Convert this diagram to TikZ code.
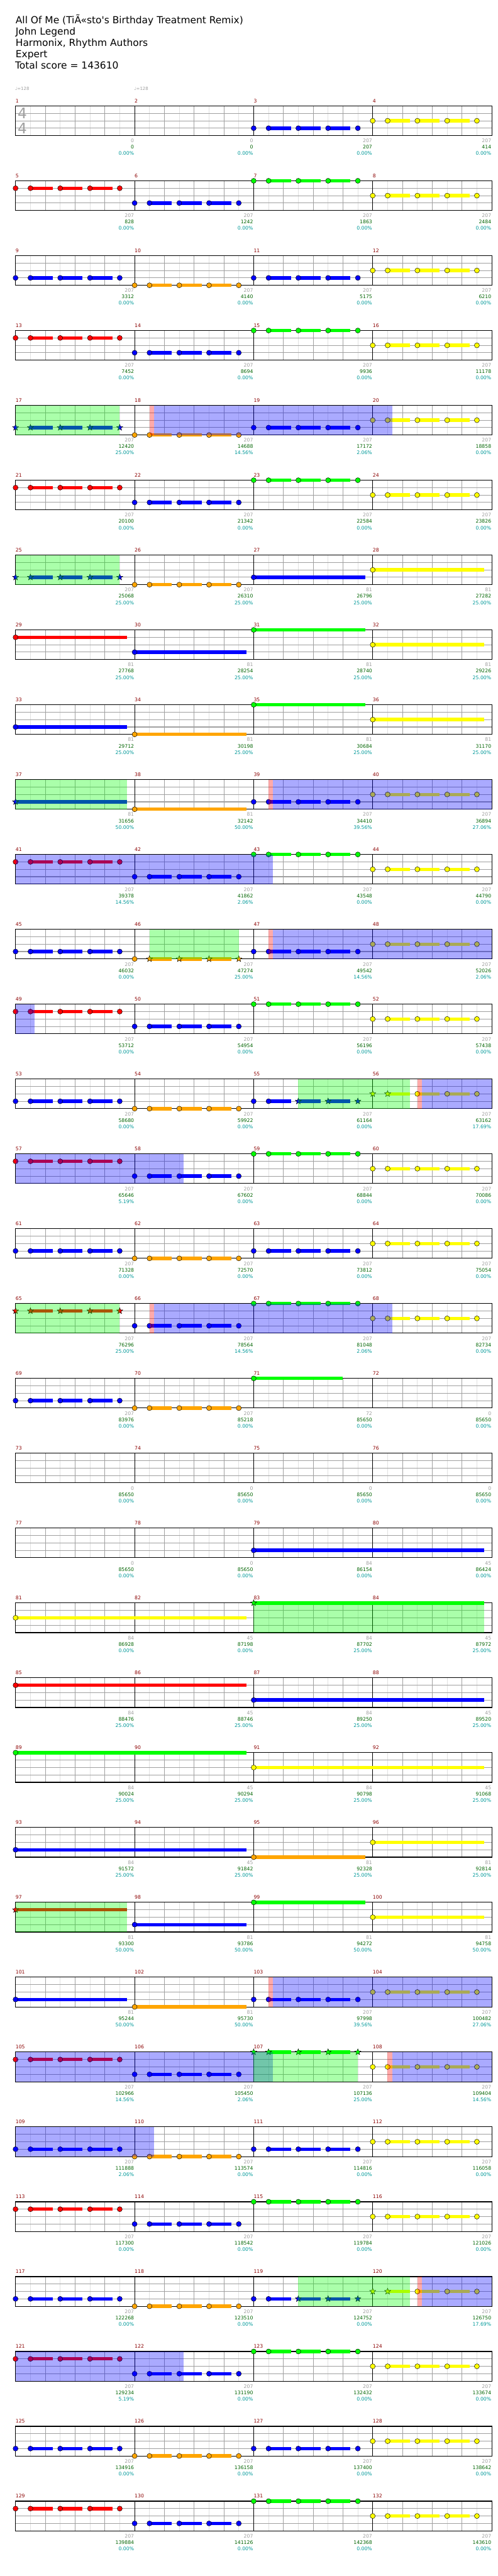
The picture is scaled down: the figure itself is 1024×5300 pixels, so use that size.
\documentclass[tikz,border=0pt]{standalone}
\usepackage{fontspec}
\newfontfamily\chartfont{DejaVu Sans}
\usetikzlibrary{positioning}

% lane colours
\definecolor{ghgreen}{RGB}{0,255,0}
\definecolor{ghred}{RGB}{255,0,0}
\definecolor{ghyellow}{RGB}{255,255,0}
\definecolor{ghblue}{RGB}{0,0,255}
\definecolor{ghorange}{RGB}{255,165,0}
\colorlet{lane0}{ghgreen}
\colorlet{lane1}{ghred}
\colorlet{lane2}{ghyellow}
\colorlet{lane3}{ghblue}
\colorlet{lane4}{ghorange}
% text and grid colours
\definecolor{halfgray}{RGB}{225,225,225}
\definecolor{beatgray}{RGB}{160,160,160}
\definecolor{barred}{RGB}{139,0,0}
\definecolor{gaingray}{RGB}{160,160,160}
\definecolor{totalgreen}{RGB}{0,100,0}
\definecolor{shareteal}{RGB}{0,153,153}

\tikzset{
  halfline/.style={draw=halfgray, line width=0.8pt},
  beatline/.style={draw=beatgray, line width=0.8pt},
  laneline/.style={draw=beatgray, line width=1.4pt},
  barline/.style={draw=black, line width=0.8pt},
  staffbox/.style={draw=black, line width=1.4pt},
  hold/.style={line width=7pt},
  gemline/.style={draw=black, line width=0.6pt},
  spfill/.style={fill=ghgreen, opacity=0.333},
  odfill/.style={fill=ghblue, opacity=0.333},
  kickfill/.style={fill=ghred, opacity=0.333},
  title/.style={anchor=base west, inner sep=0, font=\chartfont\fontsize{20}{24}\selectfont},
  tempo/.style={anchor=base west, inner sep=0, text=gaingray, font=\chartfont\fontsize{9}{11}\selectfont},
  timesig/.style={inner sep=0, text=beatgray, font=\chartfont\fontsize{30}{30}\selectfont},
  barnum/.style={anchor=base west, inner sep=0, text=barred, font=\chartfont\fontsize{10}{12}\selectfont},
  gain/.style={anchor=base east, inner sep=0, text=gaingray, font=\chartfont\fontsize{10}{12}\selectfont},
  total/.style={anchor=base east, inner sep=0, text=totalgreen, font=\chartfont\fontsize{10}{12}\selectfont},
  share/.style={anchor=base east, inner sep=0, text=shareteal, font=\chartfont\fontsize{10}{12}\selectfont}
}

% position helpers: x from (measure in row, beat), y from (row, lane)
\newcommand{\gx}[2]{32+245*(#1)+61.25*(#2)}
\newcommand{\gy}[2]{218+154*(#1)+15.25*(#2)}

% gems
\newcommand{\gem}[3]{\filldraw[gemline, fill=#3] ({#1},{#2}) circle[radius=5.2];}
\newcommand{\stargem}[3]{\filldraw[gemline, fill=#3, shift={({#1},{#2})}]
  plot[samples at={0,...,9}] ({-90+36*\x}:{ifthenelse(mod(\x,2)==0,6.6,2.8)}) -- cycle;}

% run of five gems with three short holds
\newcommand{\run}[8]{%
  \foreach \s in {0.5,1.5,2.5}
    \draw[hold, draw=lane#3] ({\gx{#2}{\s}},{\gy{#1}{#3}}) -- ++(45.94,0);
  \csname#4\endcsname{\gx{#2}{0}}{\gy{#1}{#3}}{lane#3}
  \csname#5\endcsname{\gx{#2}{0.5}}{\gy{#1}{#3}}{lane#3}
  \csname#6\endcsname{\gx{#2}{1.5}}{\gy{#1}{#3}}{lane#3}
  \csname#7\endcsname{\gx{#2}{2.5}}{\gy{#1}{#3}}{lane#3}
  \csname#8\endcsname{\gx{#2}{3.5}}{\gy{#1}{#3}}{lane#3}}
\newcommand{\gemrun}[3]{\run{#1}{#2}{#3}{gem}{gem}{gem}{gem}{gem}}
\newcommand{\starrun}[3]{\run{#1}{#2}{#3}{stargem}{stargem}{stargem}{stargem}{stargem}}

% one gem with a long hold (row, measure, lane, beats, kind)
\newcommand{\longhold}[5]{%
  \draw[hold, draw=lane#3] ({\gx{#2}{0}},{\gy{#1}{#3}}) -- ++({61.25*(#4)},0);
  \csname#5\endcsname{\gx{#2}{0}}{\gy{#1}{#3}}{lane#3}}

% the two usual rows
\newcommand{\rowA}[1]{\gemrun{#1}{0}{1}\gemrun{#1}{1}{3}\gemrun{#1}{2}{0}\gemrun{#1}{3}{2}}
\newcommand{\rowB}[1]{\gemrun{#1}{0}{3}\gemrun{#1}{1}{4}\gemrun{#1}{2}{3}\gemrun{#1}{3}{2}}

% shaded zones, beats counted from the row start
\newcommand{\spzone}[3]{\fill[spfill] ({\gx{0}{#2}},{\gy{#1}{0}}) rectangle ({\gx{0}{#3}},{\gy{#1}{4}});}
\newcommand{\odzone}[3]{\fill[odfill] ({\gx{0}{#2}},{\gy{#1}{0}}) rectangle ({\gx{0}{#3}},{\gy{#1}{4}});}
\newcommand{\odkick}[2]{\fill[kickfill] ({\gx{0}{#2}},{\gy{#1}{0}}) rectangle ({\gx{0}{#2+0.15}},{\gy{#1}{4}});}

% empty staff of one row with its bar numbers
\newcommand{\staff}[1]{%
  \foreach \k in {1,3,...,31}
    \draw[halfline] ({32+30.625*\k},{\gy{#1}{0}}) -- ++(0,61);
  \foreach \k in {1,2,3,5,6,7,9,10,11,13,14,15}
    \draw[beatline] ({32+61.25*\k},{\gy{#1}{0}}) -- ++(0,61);
  \foreach \l in {1,2,3}
    \draw[laneline] (32,{\gy{#1}{\l}}) -- ++(980,0);
  \foreach \c in {1,2,3}
    \draw[barline] ({\gx{\c}{0}},{\gy{#1}{0}}) -- ++(0,61);
  \draw[staffbox] (32,{\gy{#1}{0}}) rectangle ++(980,61);
  \foreach \c in {0,...,3}{
    \pgfmathtruncatemacro\n{4*#1+\c+1}
    \node[barnum] (bar\n) at ({\gx{\c}{0}},{\gy{#1}{0}-7}) {\n};}}

% scores under one row: gain/total/share per measure
\newcommand{\rowscores}[2]{%
  \foreach \a/\b/\p [count=\c from 0] in {#2}{
    \pgfmathtruncatemacro\n{4*#1+\c+1}
    \node[gain] (gain\n) at ({\gx{\c+1}{0}-1},{\gy{#1}{4}+14.5}) {\a};
    \node[total] (total\n) at ({\gx{\c+1}{0}-1},{\gy{#1}{4}+27.5}) {\b};
    \node[share] (share\n) at ({\gx{\c+1}{0}-1},{\gy{#1}{4}+40.5}) {\p\%};}}

\begin{document}
\begin{tikzpicture}[x=1pt, y=-1pt]
\useasboundingbox (0,0) rectangle (1024,5300);
\fill[white] (0,0) rectangle (1024,5300);

% header
\node[title] (song) at (32,49) {All Of Me (TiÃ«sto's Birthday Treatment Remix)};
\node[title] (artist) at (32,72) {John Legend};
\node[title] (charter) at (32,95) {Harmonix, Rhythm Authors};
\node[title] (level) at (32,119) {Expert};
\node[title] (score) at (31,142) {Total score = 143610};

% tempo marks
\node[tempo] (bpm1) at (31,186) {♩=128};
\node[tempo] (bpm2) at (276,186) {♩=128};

% staves
\foreach \r in {0,...,32}{\staff{\r}}

% time signature
\node[timesig] (tsup) at (46,{\gy{0}{1}}) {4};
\node[timesig] (tsdown) at (46,{\gy{0}{3}}) {4};

% notes
\gemrun{0}{2}{3} \gemrun{0}{3}{2}
\rowA{1}
\rowB{2}
\rowA{3}
\starrun{4}{0}{3} \gemrun{4}{1}{4} \gemrun{4}{2}{3} \gemrun{4}{3}{2}
\rowA{5}
\starrun{6}{0}{3} \gemrun{6}{1}{4}
\longhold{6}{2}{3}{3.75}{gem} \longhold{6}{3}{2}{3.75}{gem}
\longhold{7}{0}{1}{3.75}{gem} \longhold{7}{1}{3}{3.75}{gem}
\longhold{7}{2}{0}{3.75}{gem} \longhold{7}{3}{2}{3.75}{gem}
\longhold{8}{0}{3}{3.75}{gem} \longhold{8}{1}{4}{3.75}{gem}
\longhold{8}{2}{0}{3.75}{gem} \longhold{8}{3}{2}{3.75}{gem}
\longhold{9}{0}{3}{3.75}{stargem} \longhold{9}{1}{4}{3.75}{gem}
\gemrun{9}{2}{3} \gemrun{9}{3}{2}
\rowA{10}
\gemrun{11}{0}{3} \run{11}{1}{4}{gem}{stargem}{stargem}{stargem}{stargem}
\gemrun{11}{2}{3} \gemrun{11}{3}{2}
\rowA{12}
\gemrun{13}{0}{3} \gemrun{13}{1}{4}
\run{13}{2}{3}{gem}{gem}{stargem}{stargem}{stargem}
\run{13}{3}{2}{stargem}{stargem}{gem}{gem}{gem}
\rowA{14}
\rowB{15}
\starrun{16}{0}{1} \gemrun{16}{1}{3} \gemrun{16}{2}{0} \gemrun{16}{3}{2}
\gemrun{17}{0}{3} \gemrun{17}{1}{4} \longhold{17}{2}{0}{3}{gem}
\longhold{19}{2}{3}{7.75}{gem}
\longhold{20}{0}{2}{7.75}{gem} \longhold{20}{2}{0}{7.75}{stargem}
\longhold{21}{0}{1}{7.75}{gem} \longhold{21}{2}{3}{7.75}{gem}
\longhold{22}{0}{0}{7.75}{gem} \longhold{22}{2}{2}{7.75}{gem}
\longhold{23}{0}{3}{7.75}{gem} \longhold{23}{2}{4}{3.75}{gem} \longhold{23}{3}{2}{3.75}{gem}
\longhold{24}{0}{1}{3.75}{stargem} \longhold{24}{1}{3}{3.75}{gem}
\longhold{24}{2}{0}{3.75}{gem} \longhold{24}{3}{2}{3.75}{gem}
\longhold{25}{0}{3}{3.75}{gem} \longhold{25}{1}{4}{3.75}{gem}
\gemrun{25}{2}{3} \gemrun{25}{3}{2}
\gemrun{26}{0}{1} \gemrun{26}{1}{3} \starrun{26}{2}{0} \gemrun{26}{3}{2}
\rowB{27}
\rowA{28}
\gemrun{29}{0}{3} \gemrun{29}{1}{4}
\run{29}{2}{3}{gem}{gem}{stargem}{stargem}{stargem}
\run{29}{3}{2}{stargem}{stargem}{gem}{gem}{gem}
\rowA{30}
\rowB{31}
\rowA{32}

% star power and overdrive zones
\spzone{4}{0}{3.5} \odkick{4}{4.5} \odzone{4}{4.65}{12.65}
\spzone{6}{0}{3.5}
\spzone{9}{0}{3.75} \odkick{9}{8.5} \odzone{9}{8.65}{16}
\odzone{10}{0}{8.65}
\spzone{11}{4.5}{7.5} \odkick{11}{8.5} \odzone{11}{8.65}{16}
\odzone{12}{0}{0.65}
\spzone{13}{9.5}{13.25} \odkick{13}{13.5} \odzone{13}{13.65}{16}
\odzone{14}{0}{5.65}
\spzone{16}{0}{3.5} \odkick{16}{4.5} \odzone{16}{4.65}{12.65}
\spzone{20}{8}{15.75}
\spzone{24}{0}{3.75}
\odkick{25}{8.5} \odzone{25}{8.65}{16}
\odzone{26}{0}{8.65} \spzone{26}{8}{11.5} \odkick{26}{12.5} \odzone{26}{12.65}{16}
\odzone{27}{0}{4.65}
\spzone{29}{9.5}{13.25} \odkick{29}{13.5} \odzone{29}{13.65}{16}
\odzone{30}{0}{5.65}

% scores
\rowscores{0}{0/0/0.00,0/0/0.00,207/207/0.00,207/414/0.00}
\rowscores{1}{207/828/0.00,207/1242/0.00,207/1863/0.00,207/2484/0.00}
\rowscores{2}{207/3312/0.00,207/4140/0.00,207/5175/0.00,207/6210/0.00}
\rowscores{3}{207/7452/0.00,207/8694/0.00,207/9936/0.00,207/11178/0.00}
\rowscores{4}{207/12420/25.00,207/14688/14.56,207/17172/2.06,207/18858/0.00}
\rowscores{5}{207/20100/0.00,207/21342/0.00,207/22584/0.00,207/23826/0.00}
\rowscores{6}{207/25068/25.00,207/26310/25.00,81/26796/25.00,81/27282/25.00}
\rowscores{7}{81/27768/25.00,81/28254/25.00,81/28740/25.00,81/29226/25.00}
\rowscores{8}{81/29712/25.00,81/30198/25.00,81/30684/25.00,81/31170/25.00}
\rowscores{9}{81/31656/50.00,81/32142/50.00,207/34410/39.56,207/36894/27.06}
\rowscores{10}{207/39378/14.56,207/41862/2.06,207/43548/0.00,207/44790/0.00}
\rowscores{11}{207/46032/0.00,207/47274/25.00,207/49542/14.56,207/52026/2.06}
\rowscores{12}{207/53712/0.00,207/54954/0.00,207/56196/0.00,207/57438/0.00}
\rowscores{13}{207/58680/0.00,207/59922/0.00,207/61164/0.00,207/63162/17.69}
\rowscores{14}{207/65646/5.19,207/67602/0.00,207/68844/0.00,207/70086/0.00}
\rowscores{15}{207/71328/0.00,207/72570/0.00,207/73812/0.00,207/75054/0.00}
\rowscores{16}{207/76296/25.00,207/78564/14.56,207/81048/2.06,207/82734/0.00}
\rowscores{17}{207/83976/0.00,207/85218/0.00,72/85650/0.00,0/85650/0.00}
\rowscores{18}{0/85650/0.00,0/85650/0.00,0/85650/0.00,0/85650/0.00}
\rowscores{19}{0/85650/0.00,0/85650/0.00,84/86154/0.00,45/86424/0.00}
\rowscores{20}{84/86928/0.00,45/87198/0.00,84/87702/25.00,45/87972/25.00}
\rowscores{21}{84/88476/25.00,45/88746/25.00,84/89250/25.00,45/89520/25.00}
\rowscores{22}{84/90024/25.00,45/90294/25.00,84/90798/25.00,45/91068/25.00}
\rowscores{23}{84/91572/25.00,45/91842/25.00,81/92328/25.00,81/92814/25.00}
\rowscores{24}{81/93300/50.00,81/93786/50.00,81/94272/50.00,81/94758/50.00}
\rowscores{25}{81/95244/50.00,81/95730/50.00,207/97998/39.56,207/100482/27.06}
\rowscores{26}{207/102966/14.56,207/105450/2.06,207/107136/25.00,207/109404/14.56}
\rowscores{27}{207/111888/2.06,207/113574/0.00,207/114816/0.00,207/116058/0.00}
\rowscores{28}{207/117300/0.00,207/118542/0.00,207/119784/0.00,207/121026/0.00}
\rowscores{29}{207/122268/0.00,207/123510/0.00,207/124752/0.00,207/126750/17.69}
\rowscores{30}{207/129234/5.19,207/131190/0.00,207/132432/0.00,207/133674/0.00}
\rowscores{31}{207/134916/0.00,207/136158/0.00,207/137400/0.00,207/138642/0.00}
\rowscores{32}{207/139884/0.00,207/141126/0.00,207/142368/0.00,207/143610/0.00}

\end{tikzpicture}
\end{document}
